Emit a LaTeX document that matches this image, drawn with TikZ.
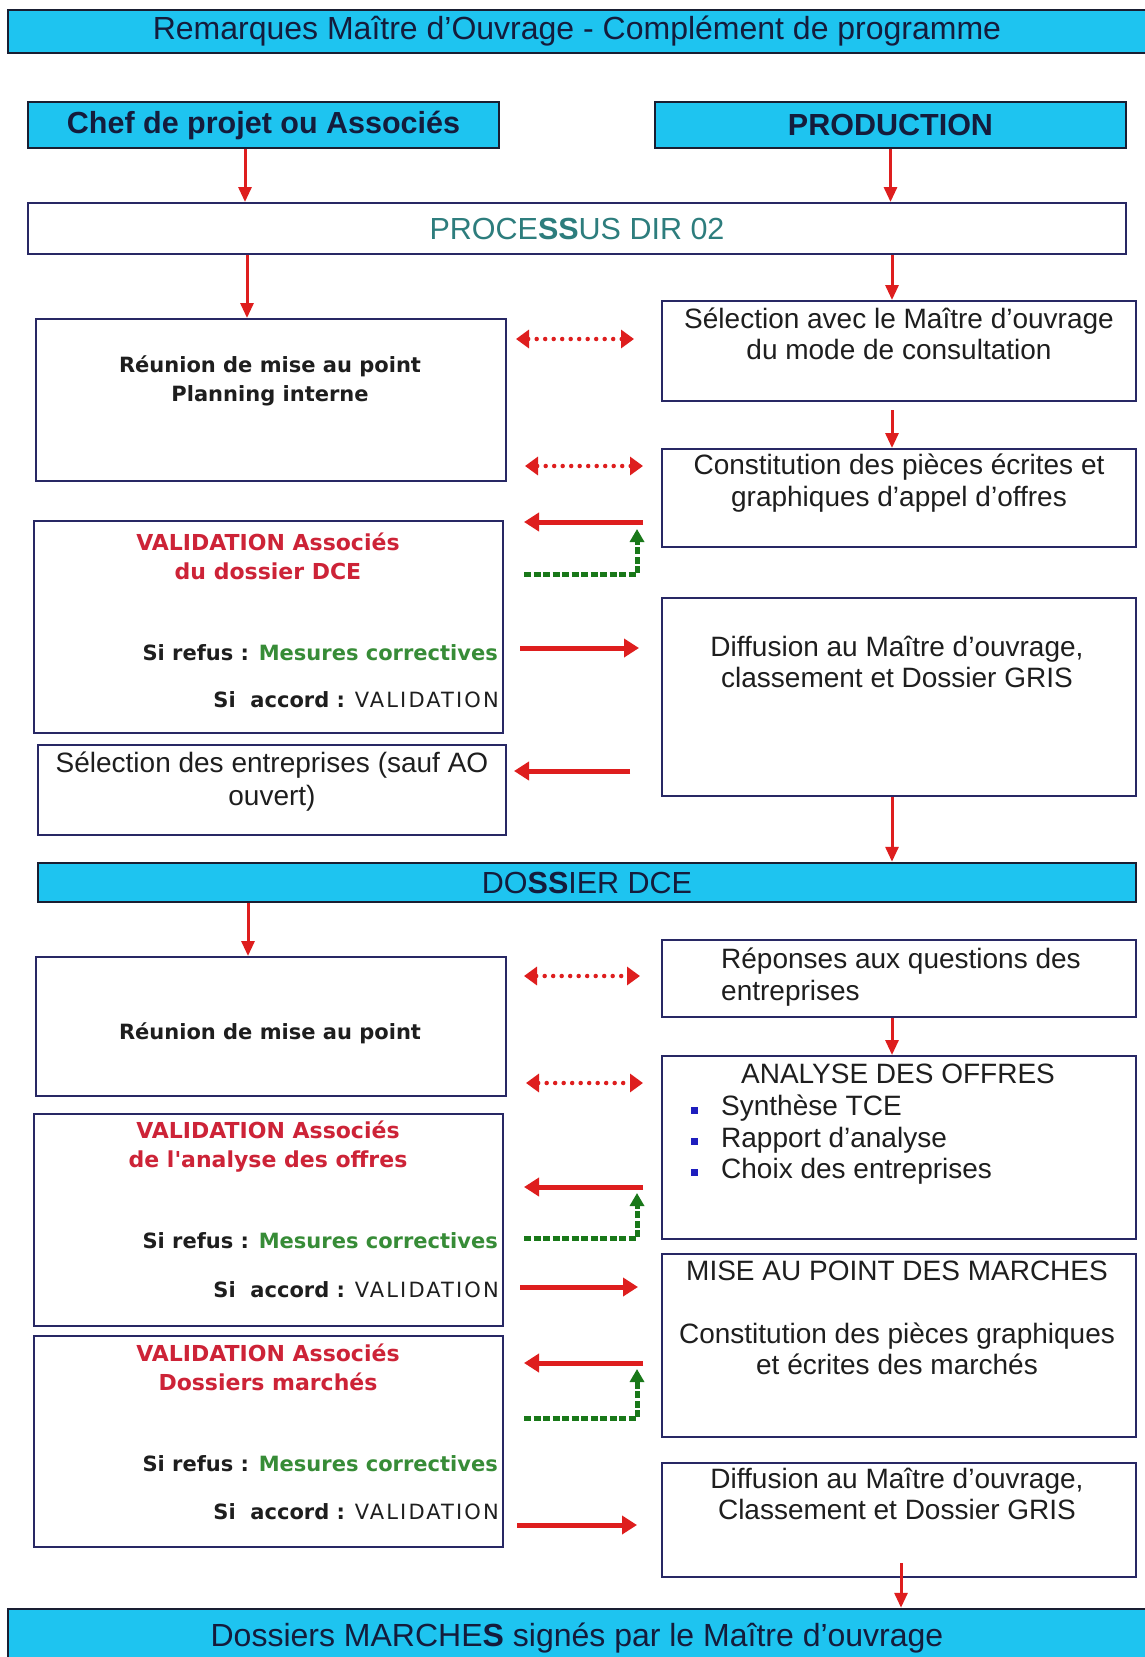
\documentclass[tikz,border=0pt]{standalone}
\usepackage{fontspec}
\setmainfont{Liberation Sans}
\newfontfamily\dvsans{DejaVu Sans}
\usetikzlibrary{arrows.meta,calc}
\definecolor{bandfill}{RGB}{30,196,240}
\definecolor{bandline}{RGB}{25,30,50}
\definecolor{boxline}{RGB}{40,40,100}
\definecolor{arrowred}{RGB}{222,30,30}
\definecolor{okgreen}{RGB}{25,120,25}
\definecolor{headnavy}{RGB}{20,28,60}
\definecolor{tealtext}{RGB}{45,125,125}
\definecolor{valred}{RGB}{205,35,55}
\definecolor{corrgreen}{RGB}{55,140,55}
\definecolor{bodytext}{RGB}{30,30,30}
\definecolor{bulletblue}{RGB}{30,30,190}
\newcommand\refusline{Si refus : \textcolor{corrgreen}{Mesures correctives}}
\newcommand\accordline{Si\hspace{.7em}accord : {\mdseries\addfontfeature{LetterSpace=10}VALIDATION}}
\begin{document}
\begin{tikzpicture}[x=1pt,y=-1pt,
  box/.style={draw=boxline,line width=2pt,fill=white,inner sep=0pt},
  band/.style={draw=bandline,line width=2.5pt,fill=bandfill,inner sep=0pt,text=headnavy,font=\fontsize{32}{36}\selectfont},
  body/.style={inner sep=0pt,text=bodytext,font=\fontsize{28}{31.5}\selectfont,align=center},
  vtext/.style={inner sep=0pt,text=bodytext,font=\dvsans\bfseries\fontsize{21}{28.5}\selectfont,align=center},
  vred/.style={vtext,text=valred,font=\dvsans\bfseries\fontsize{22}{29}\selectfont},
  varr/.style={draw=arrowred,line width=3pt,-{Triangle[length=15pt,width=13pt]}},
  harr/.style={draw=arrowred,line width=5pt,-{Triangle[length=15pt,width=18pt]}},
  dotarr/.style={draw=arrowred,line width=4.5pt,line cap=round,dash pattern=on 0pt off 8.5pt,
    {Triangle[length=13pt,width=18pt]}-{Triangle[length=13pt,width=18pt]}},
  garr/.style={draw=okgreen,line width=5pt,dash pattern=on 7pt off 2.5pt,-{Triangle[length=13pt,width=14pt]}},
  bullet/.style={fill=bulletblue,minimum size=7pt,inner sep=0pt}
]
\useasboundingbox (0,0) rectangle (1145,1657);
\clip (0,0) rectangle (1145,1657);
\fill[white] (0,0) rectangle (1145,1657);

% ---- header bands ----
\node[band,minimum width=1138pt,minimum height=43pt] (top) at (577,31.5)
  {Remarques Maître d'Ouvrage - Complément de programme};
\node[band,font=\bfseries\fontsize{30.5}{34}\selectfont,minimum width=471pt,minimum height=46pt] (chef) at (263.5,125)
  {Chef de projet ou Associés};
\node[band,font=\bfseries\fontsize{30.5}{34}\selectfont,minimum width=471pt,minimum height=46pt] (prod) at (890.5,125)
  {PRODUCTION};
\node[box,minimum width=1098pt,minimum height=51pt,text=tealtext,font=\fontsize{30.5}{34}\selectfont] (proc) at (577,228.5)
  {PROCE\textbf{SS}US DIR 02};

% ---- first phase ----
\node[box,minimum width=470pt,minimum height=162pt] (reu1) at (271,400) {};
\node[vtext] (reu1t) at (270,381) {Réunion de mise au point\\Planning interne};

\node[box,minimum width=474pt,minimum height=100pt] (sel) at (899,351) {};
\node[body] (selt) at (899,334) {Sélection avec le Maître d'ouvrage\\du mode de consultation};

\node[box,minimum width=474pt,minimum height=98pt] (cons) at (899,498) {};
\node[body] (const) at (899,483) {Constitution des pièces écrites et\\graphiques d'appel d'offres};

\node[box,minimum width=469pt,minimum height=212pt] (val1) at (268.5,627) {};
\node[vred] (val1t) at (268,556) {VALIDATION Associés\\du dossier DCE};
\node[vtext,anchor=east] (val1r) at (498,653) {\refusline};
\node[vtext,anchor=east] (val1a) at (499,700) {\accordline};

\node[box,minimum width=474pt,minimum height=198pt] (diff1) at (899,697) {};
\node[body] (diff1t) at (897,662) {Diffusion au Maître d'ouvrage,\\classement et Dossier GRIS};

\node[box,minimum width=468pt,minimum height=90pt] (selent) at (272,790) {};
\node[body,font=\fontsize{28}{33}\selectfont] (selentt) at (272,782) {Sélection des entreprises (sauf AO\\ouvert)};

\node[band,minimum width=1098pt,minimum height=39pt,font=\fontsize{30.5}{34}\selectfont] (dce) at (587,882.5)
  {DO\textbf{SS}IER DCE};

% ---- second phase ----
\node[box,minimum width=470pt,minimum height=139pt] (reu2) at (271,1026.5) {};
\node[vtext] (reu2t) at (270,1033) {Réunion de mise au point};

\node[box,minimum width=474pt,minimum height=77pt] (rep) at (899,978.5) {};
\node[body,anchor=west,align=left] (rept) at (721,977) {Réponses aux questions des\\entreprises};

\node[box,minimum width=474pt,minimum height=183pt] (ana) at (899,1147.5) {};
\node[body] (anat) at (898,1074) {ANALYSE DES OFFRES};
\node[body,anchor=west,align=left] (anai) at (721,1140) {Synthèse TCE\\Rapport d'analyse\\Choix des entreprises};
\node[bullet] (b1) at (694,1110) {};
\node[bullet] (b2) at (694,1141) {};
\node[bullet] (b3) at (694,1172) {};

\node[box,minimum width=469pt,minimum height=212pt] (val2) at (268.5,1220) {};
\node[vred] (val2t) at (268,1147) {VALIDATION Associés\\de l'analyse des offres};
\node[vtext,anchor=east] (val2r) at (498,1241) {\refusline};
\node[vtext,anchor=east] (val2a) at (499,1290) {\accordline};

\node[box,minimum width=474pt,minimum height=183pt] (mise) at (899,1345.5) {};
\node[body] (miset1) at (897,1271) {MISE AU POINT DES MARCHES};
\node[body] (miset2) at (897,1349) {Constitution des pièces graphiques\\et écrites des marchés};

\node[box,minimum width=469pt,minimum height=211pt] (val3) at (268.5,1441.5) {};
\node[vred] (val3t) at (268,1367) {VALIDATION Associés\\Dossiers marchés};
\node[vtext,anchor=east] (val3r) at (498,1464) {\refusline};
\node[vtext,anchor=east] (val3a) at (499,1512) {\accordline};

\node[box,minimum width=474pt,minimum height=114pt] (diff2) at (899,1520) {};
\node[body] (diff2t) at (897,1494) {Diffusion au Maître d'ouvrage,\\Classement et Dossier GRIS};

\node[band,minimum width=1138pt,minimum height=58pt] (bot) at (577,1638)
  {Dossiers MARCHE\textbf{S} signés par le Maître d'ouvrage};

% ---- vertical flow arrows ----
\coordinate (cl) at (245,0);
\coordinate (cl2) at (247,0);
\coordinate (cl3) at (248,0);
\coordinate (cr) at (892,0);
\coordinate (cr2) at (901,0);
\draw[varr] (chef.south -| cl) -- (proc.north -| cl);
\draw[varr] (prod.south) -- (prod.south |- proc.north);
\draw[varr] (proc.south -| cl2) -- (reu1.north -| cl2);
\draw[varr] (proc.south -| cr) -- (sel.north -| cr);
\draw[varr] ($(sel.south -| cr)+(0,8)$) -- (cons.north -| cr);
\draw[varr] (diff1.south -| cr) -- (dce.north -| cr);
\draw[varr] (dce.south -| cl3) -- (reu2.north -| cl3);
\draw[varr] (rep.south -| cr) -- (ana.north -| cr);
\draw[varr] ($(diff2.south -| cr2)+(0,-15)$) -- (bot.north -| cr2);

% ---- exchanges between the two columns ----
\coordinate (d1l) at (516,339);  \coordinate (d1r) at (634,339);
\coordinate (d2l) at (525,466);  \coordinate (d2r) at (643,466);
\coordinate (d3l) at (524,976);  \coordinate (d3r) at (640,976);
\coordinate (d4l) at (526,1083); \coordinate (d4r) at (643,1083);
\draw[dotarr] (d1l) -- (d1r);
\draw[dotarr] (d2l) -- (d2r);
\draw[dotarr] (d3l) -- (d3r);
\draw[dotarr] (d4l) -- (d4r);

\coordinate (h1r) at (643,522);  \coordinate (h1l) at (524,522);
\coordinate (h2l) at (520,648);  \coordinate (h2r) at (639,648);
\coordinate (h4r) at (630,771);  \coordinate (h4l) at (514,771);
\coordinate (h5r) at (643,1187); \coordinate (h5l) at (524,1187);
\coordinate (h6l) at (520,1287); \coordinate (h6r) at (638,1287);
\coordinate (h7r) at (643,1363); \coordinate (h7l) at (524,1363);
\coordinate (h8l) at (517,1525); \coordinate (h8r) at (637,1525);
\draw[harr] (h1r) -- (h1l);
\draw[harr] (h2l) -- (h2r);
\draw[harr] (h4r) -- (h4l);
\draw[harr] (h5r) -- (h5l);
\draw[harr] (h6l) -- (h6r);
\draw[harr] (h7r) -- (h7l);
\draw[harr] (h8l) -- (h8r);

% ---- corrective loops ----
\coordinate (g1s) at (524,574);  \coordinate (g1e) at (637,529);
\coordinate (g2s) at (524,1238); \coordinate (g2e) at (637,1193);
\coordinate (g3s) at (524,1418); \coordinate (g3e) at (637,1369);
\draw[garr] (g1s) -| (g1e);
\draw[garr] (g2s) -| (g2e);
\draw[garr] (g3s) -| (g3e);
\end{tikzpicture}
\end{document}
